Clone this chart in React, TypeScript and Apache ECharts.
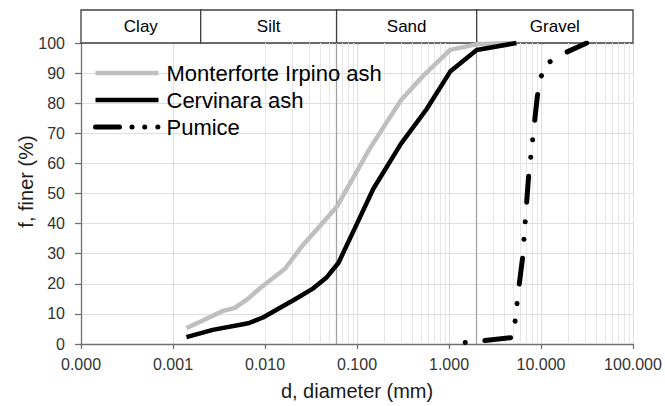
import React, { useEffect, useRef } from 'react';
import * as echarts from 'echarts';

// Particle size classes (top band)
const bandNames = ['Clay', 'Silt', 'Sand', 'Gravel'];
const bandEdges = [0.0001, 0.002, 0.06, 2, 100];

// Log-axis minor grid multipliers and decades
const decades = [0.0001, 0.001, 0.01, 0.1, 1, 10];
const minorSteps = [2, 3, 4, 5, 6, 7, 8, 9];

// Monterforte Irpino ash
const diamMI = [0.0014, 0.002, 0.0035, 0.0047, 0.0065, 0.0088, 0.0165, 0.026, 0.0365, 0.06, 0.138, 0.3, 0.52, 1.03, 2.1, 5.4];
const finerMI = [5.3, 7.5, 11, 12, 15, 18.5, 25, 33, 38, 45.5, 65, 81, 89, 97.7, 99.7, 100];

// Cervinara ash
const diamCA = [0.0014, 0.0027, 0.0066, 0.0095, 0.021, 0.0335, 0.047, 0.063, 0.1, 0.15, 0.3, 0.57, 1.03, 2.0, 5.4];
const finerCA = [2.3, 4.7, 6.9, 8.8, 14.8, 18.5, 22.2, 27, 40, 51.5, 66.5, 78, 90.5, 97.7, 100];

// Pumice
const diamP = [1.5, 5.0, 5.7, 6.3, 7.3, 9.1, 9.7, 10.9, 15.4, 31.4];
const finerP = [0.5, 2.2, 18, 28.5, 55, 82, 87.3, 92.5, 95.7, 100];

const seriesNames = ['Monterforte Irpino ash', 'Cervinara ash', 'Pumice'];

const FONT = 'Liberation Sans, Arial, sans-serif';

const zip = (xs: number[], ys: number[]) => xs.map((x, i) => [x, ys[i]]);

export default function App() {
  const ref = useRef<HTMLDivElement>(null);
  useEffect(() => {
    document.body.style.margin = '0';
    if (!ref.current) return;
    const chart = echarts.init(ref.current, undefined, { renderer: 'svg' });

    const minorValues: number[] = [];
    decades.forEach((d) => minorSteps.forEach((m) => minorValues.push(d * m)));
    const boundaries = bandEdges.slice(1, -1);

    const pumiceDash = [0.1, 19.6, 26, 19, 0.1, 17.5];

    const option: any = {
      animation: false,
      textStyle: { fontFamily: FONT },
      grid: [
        { left: 81, right: 32, top: 43, bottom: 60 },
        { left: 81, right: 32, top: 10, height: 33 },
      ],
      xAxis: [
        {
          type: 'log',
          logBase: 10,
          min: 0.0001,
          max: 100,
          gridIndex: 0,
          name: 'd, diameter (mm)',
          nameLocation: 'middle',
          nameGap: 37,
          nameMoveOverlap: false,
          nameTextStyle: { fontSize: 20, color: '#1a1a1a', fontFamily: FONT },
          axisLine: { show: true, lineStyle: { color: '#707070', width: 1.3 } },
          axisTick: { show: true, length: 5, lineStyle: { color: '#707070', width: 1.3 } },
          axisLabel: {
            fontSize: 16,
            color: '#333',
            margin: 12,
            fontFamily: FONT,
            formatter: (v: number) => v.toFixed(3),
          },
          splitLine: { show: true, lineStyle: { color: '#dedede', width: 1 } },
        },
        {
          type: 'log',
          logBase: 10,
          min: 0.0001,
          max: 100,
          gridIndex: 1,
          show: false,
        },
      ],
      yAxis: [
        {
          type: 'value',
          min: 0,
          max: 100,
          interval: 10,
          gridIndex: 0,
          name: 'f, finer (%)',
          nameLocation: 'middle',
          nameGap: 45,
          nameMoveOverlap: false,
          nameTextStyle: { fontSize: 20, color: '#1a1a1a', fontFamily: FONT, padding: [0, 0, 0, 24] },
          axisLine: { show: true, lineStyle: { color: '#707070', width: 1.3 } },
          axisTick: { show: true, length: 6, lineStyle: { color: '#707070', width: 1.3 } },
          axisLabel: { fontSize: 16, color: '#333', margin: 16, fontFamily: FONT },
          splitLine: { show: true, lineStyle: { color: '#dedede', width: 1 } },
        },
        { type: 'value', min: 0, max: 1, gridIndex: 1, show: false },
      ],
      legend: {
        orient: 'vertical',
        left: 93,
        top: 62,
        padding: 0,
        itemWidth: 63,
        itemHeight: 22,
        itemGap: 5,
        selectedMode: false,
        itemStyle: { opacity: 0 },
        textStyle: { fontSize: 22, color: '#000', fontFamily: FONT, padding: [0, 0, 0, 3] },
        data: [
          { name: seriesNames[0], lineStyle: { width: 4.5, color: '#bfbfbf', type: 'solid' } },
          { name: seriesNames[1], lineStyle: { width: 4.5, color: '#000', type: 'solid' } },
          {
            name: seriesNames[2],
            lineStyle: { width: 5, color: '#000', type: [24, 12.5, 0.1, 12.6, 0.1, 13, 0.1, 30], dashOffset: 0, cap: 'round' },
          },
        ],
      },
      series: [
        {
          type: 'line',
          name: 'minor-grid',
          xAxisIndex: 0,
          yAxisIndex: 0,
          data: [],
          silent: true,
          markLine: {
            silent: true,
            z: 1,
            symbol: 'none',
            label: { show: false },
            lineStyle: { color: '#e6e6e6', width: 1, type: 'solid' },
            emphasis: { disabled: true },
            data: minorValues.map((v) => ({ xAxis: v })),
          },
        },
        {
          type: 'line',
          name: 'class-boundaries',
          xAxisIndex: 0,
          yAxisIndex: 0,
          data: [],
          silent: true,
          markLine: {
            silent: true,
            z: 1,
            symbol: 'none',
            label: { show: false },
            lineStyle: { color: '#a3a3a3', width: 1.3, type: 'solid' },
            emphasis: { disabled: true },
            data: boundaries.map((v) => ({ xAxis: v })),
          },
        },
        {
          type: 'line',
          name: 'bands',
          xAxisIndex: 1,
          yAxisIndex: 1,
          data: [],
          silent: true,
          markArea: {
            silent: true,
            itemStyle: { color: '#ffffff', borderColor: '#404040', borderWidth: 1.3, opacity: 1 },
            label: { show: true, position: 'inside', fontSize: 17, color: '#000', fontFamily: FONT },
            emphasis: { disabled: true },
            data: bandNames.map((n, i) => [
              { name: n, xAxis: bandEdges[i] },
              { xAxis: bandEdges[i + 1] },
            ]),
          },
        },
        {
          type: 'line',
          name: seriesNames[0],
          data: zip(diamMI, finerMI),
          showSymbol: false,
          symbol: 'none',
          z: 3,
          color: '#bfbfbf',
          lineStyle: { color: '#bfbfbf', width: 4.5, join: 'round' },
        },
        {
          type: 'line',
          name: seriesNames[1],
          data: zip(diamCA, finerCA),
          showSymbol: false,
          symbol: 'none',
          z: 4,
          color: '#000',
          lineStyle: { color: '#000', width: 4.5, join: 'round' },
        },
        {
          type: 'line',
          name: seriesNames[2],
          data: zip(diamP, finerP),
          showSymbol: false,
          symbol: 'none',
          z: 4,
          color: '#000',
          lineStyle: { color: '#000', width: 5, type: pumiceDash, dashOffset: 0, cap: 'round', join: 'round' },
        },
      ],
    };
    chart.setOption(option);
    return () => chart.dispose();
  }, []);
  return <div ref={ref} style={{ width: 665, height: 406 }} />;
}
